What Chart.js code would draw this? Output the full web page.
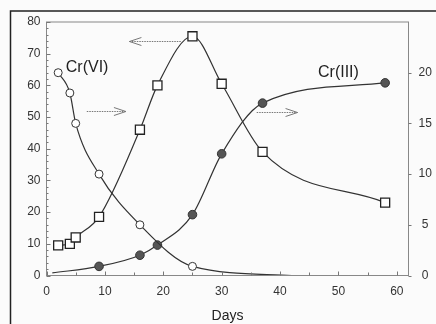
<!DOCTYPE html>
<html>
<head>
<meta charset="utf-8">
<script src="https://cdn.jsdelivr.net/npm/chart.js@4"></script>
<style>
  html, body { margin: 0; padding: 0; background: #fbfbfb; }
  #wrap { width: 436px; height: 324px; }
</style>
</head>
<body>
<div id="wrap"><canvas id="crChart" width="436" height="324"></canvas></div>
<script>
// open squares, left axis
const sqDays = [2, 4, 5, 9, 16, 19, 25, 30, 37, 58];
const sqVals = [9.5, 10, 12, 18.5, 46, 60, 75.5, 60.5, 39, 23];
// Cr(VI), open circles, right axis (last point has no marker)
const viDays = [2, 4, 5, 9, 16, 25, 42];
const viVals = [20, 18, 15, 10, 5, 0.9, 0];
// Cr(III), filled circles, right axis (first point has no marker)
const iiiDays = [1, 9, 16, 19, 25, 30, 37, 58];
const iiiVals = [0.25, 0.9, 2, 3, 6, 12, 17, 19];

const xTicks = [0, 10, 20, 30, 40, 50, 60];
const leftTicks = [0, 10, 20, 30, 40, 50, 60, 70, 80];
const rightTicks = [0, 5, 10, 15, 20];

// text labels and arrows, placed in data units (x: days, y: left axis)
const labels = [
  { text: 'Cr(VI)', x: 3.3, y: 65.5 },
  { text: 'Cr(III)', x: 46.5, y: 64 }
];
const arrows = [
  { x1: 23, x2: 14.2, y: 74 },
  { x1: 6.9, x2: 13.6, y: 52 },
  { x1: 36, x2: 43, y: 51.5 }
];

const pts = (xs, ys) => xs.map((x, i) => ({ x, y: ys[i] }));
const ink = '#333';

const decor = {
  id: 'decor',
  afterDraw(chart) {
    const { ctx, chartArea: a, scales } = chart;
    const x = scales.x, y = scales.y, y2 = scales.y2;
    ctx.save();
    // outer frame
    ctx.strokeStyle = '#222';
    ctx.lineWidth = 1.5;
    ctx.beginPath();
    ctx.moveTo(10.5, 324);
    ctx.lineTo(10.5, 11);
    ctx.lineTo(436, 11);
    ctx.stroke();
    // plot frame
    ctx.strokeStyle = '#888';
    ctx.lineWidth = 1;
    ctx.strokeRect(a.left, a.top, a.right - a.left, a.bottom - a.top);
    // tick marks
    ctx.strokeStyle = '#777';
    ctx.beginPath();
    for (let v = 0; v <= 80; v += 2) {
      const py = Math.round(y.getPixelForValue(v)) + 0.5;
      ctx.moveTo(a.left, py);
      ctx.lineTo(a.left + (v % 10 === 0 ? 4 : 2), py);
    }
    for (let v = 0; v <= 60; v += 5) {
      const px = Math.round(x.getPixelForValue(v)) + 0.5;
      ctx.moveTo(px, a.bottom);
      ctx.lineTo(px, a.bottom - (v % 10 === 0 ? 4 : 3));
    }
    for (const v of rightTicks) {
      const py = Math.round(y2.getPixelForValue(v)) + 0.5;
      ctx.moveTo(a.right, py);
      ctx.lineTo(a.right + 3, py);
    }
    ctx.stroke();
    // arrows
    ctx.strokeStyle = '#777';
    for (const ar of arrows) {
      const px1 = x.getPixelForValue(ar.x1);
      const px2 = x.getPixelForValue(ar.x2);
      const py = Math.round(y.getPixelForValue(ar.y)) + 0.5;
      const dir = Math.sign(px2 - px1);
      ctx.setLineDash([1.5, 1]);
      ctx.beginPath();
      ctx.moveTo(px1, py);
      ctx.lineTo(px2, py);
      ctx.stroke();
      ctx.setLineDash([]);
      ctx.beginPath();
      ctx.moveTo(px2 - dir * 12, py - 4);
      ctx.lineTo(px2, py);
      ctx.lineTo(px2 - dir * 12, py + 4);
      ctx.stroke();
    }
    // series labels
    ctx.fillStyle = '#222';
    ctx.font = '16px "Liberation Sans", Arial, sans-serif';
    ctx.textBaseline = 'middle';
    ctx.textAlign = 'left';
    for (const l of labels) {
      ctx.fillText(l.text, x.getPixelForValue(l.x), y.getPixelForValue(l.y));
    }
    ctx.restore();
  }
};

const font = { family: '"Liberation Sans", Arial, sans-serif', size: 12 };
const noGrid = { display: false, drawTicks: false, tickLength: 0 };

new Chart(document.getElementById('crChart'), {
  type: 'scatter',
  data: {
    datasets: [
      {
        data: pts(sqDays, sqVals),
        yAxisID: 'y',
        showLine: true,
        cubicInterpolationMode: 'monotone',
        borderColor: ink,
        borderWidth: 1.2,
        pointStyle: 'rect',
        pointRadius: 6.4,
        pointBorderWidth: 1.3,
        pointBorderColor: '#222',
        pointBackgroundColor: '#fff',
      },
      {
        data: pts(viDays, viVals),
        yAxisID: 'y2',
        showLine: true,
        cubicInterpolationMode: 'monotone',
        borderColor: ink,
        borderWidth: 1.2,
        pointRadius: viDays.map((d, i) => (i === viDays.length - 1 ? 0 : 4)),
        pointBorderWidth: 1,
        pointBorderColor: '#333',
        pointBackgroundColor: '#fff',
      },
      {
        data: pts(iiiDays, iiiVals),
        yAxisID: 'y2',
        showLine: true,
        cubicInterpolationMode: 'monotone',
        borderColor: ink,
        borderWidth: 1.2,
        pointRadius: iiiDays.map((d, i) => (i === 0 ? 0 : 4.3)),
        pointBorderWidth: 1,
        pointBorderColor: '#333',
        pointBackgroundColor: '#555',
      },
    ],
  },
  options: {
    responsive: false,
    animation: false,
    layout: { padding: { top: 22, left: 0, right: 0, bottom: 0 } },
    scales: {
      x: {
        type: 'linear',
        min: 0,
        max: 62,
        afterBuildTicks: s => { s.ticks = xTicks.map(v => ({ value: v })); },
        ticks: { color: ink, font, padding: 9, maxRotation: 0 },
        grid: noGrid,
        border: { display: false },
        title: {
          display: true,
          text: 'Days',
          color: '#222',
          font: { family: font.family, size: 14 },
          padding: { top: 0, bottom: -1 },
        },
        afterFit: s => { s.height = 48.5; },
      },
      y: {
        position: 'left',
        min: 0,
        max: 80,
        afterBuildTicks: s => { s.ticks = leftTicks.map(v => ({ value: v })); },
        ticks: { color: ink, font, padding: 6 },
        grid: noGrid,
        border: { display: false },
        afterFit: s => { s.width = 46.5; },
      },
      y2: {
        position: 'right',
        min: 0,
        max: 25,
        afterBuildTicks: s => { s.ticks = rightTicks.map(v => ({ value: v })); },
        ticks: { color: ink, font, padding: 10, crossAlign: 'center' },
        grid: noGrid,
        border: { display: false },
        afterFit: s => { s.width = 27.5; },
      },
    },
    plugins: {
      legend: { display: false },
      tooltip: { enabled: false },
    },
  },
  plugins: [decor],
});
</script>
</body>
</html>
